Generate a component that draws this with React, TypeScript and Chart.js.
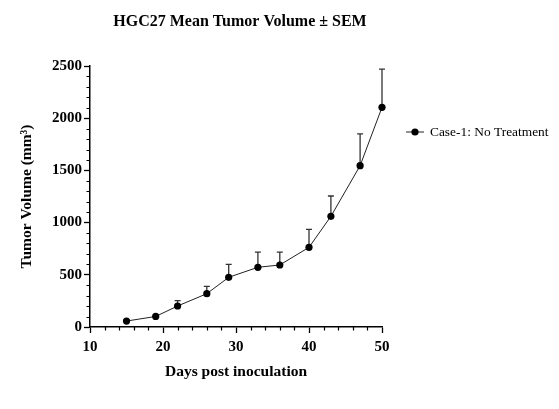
import React, { useEffect, useRef } from "react";
import { Chart, registerables } from "chart.js";

Chart.register(...registerables);

const TITLE = "HGC27 Mean Tumor Volume ± SEM";
const SERIES_LABEL = "Case-1: No Treatment";
const X_TITLE = "Days post inoculation";
const Y_TITLE = "Tumor Volume (mm³)";

const days = [15, 19, 22, 26, 29, 33, 36, 40, 43, 47, 50];
const meanVolume = [57, 101, 201, 319, 476, 572, 594, 763, 1060, 1545, 2104];
const sem = [0, 0, 51, 71, 124, 146, 124, 173, 195, 304, 367];

const FONT = "'Liberation Serif', 'Times New Roman', serif";

const extrasPlugin = {
  id: "extras",
  beforeDatasetsDraw(chart: any) {
    const ctx = chart.ctx;
    const xs = chart.scales.x;
    const ys = chart.scales.y;
    ctx.save();
    ctx.strokeStyle = "#333";
    ctx.lineWidth = 1.3;
    for (let i = 0; i < days.length; i++) {
      if (!sem[i]) continue;
      const px = xs.getPixelForValue(days[i]);
      const py = ys.getPixelForValue(meanVolume[i]);
      const pt = ys.getPixelForValue(meanVolume[i] + sem[i]);
      ctx.beginPath();
      ctx.moveTo(px, py);
      ctx.lineTo(px, pt);
      ctx.moveTo(px - 3, pt);
      ctx.lineTo(px + 3, pt);
      ctx.stroke();
    }
    ctx.restore();
  },
  afterDraw(chart: any) {
    const ctx = chart.ctx;
    const xs = chart.scales.x;
    const ys = chart.scales.y;
    const area = chart.chartArea;
    ctx.save();
    // minor ticks
    ctx.strokeStyle = "#000";
    ctx.lineWidth = 1.2;
    ctx.beginPath();
    for (let v = 100; v < 2500; v += 100) {
      if (v % 500 === 0) continue;
      const py = Math.round(ys.getPixelForValue(v)) + 0.5;
      ctx.moveTo(area.left - 3.5, py);
      ctx.lineTo(area.left, py);
    }
    for (let d = 12; d < 50; d += 2) {
      if (d % 10 === 0) continue;
      const px = Math.round(xs.getPixelForValue(d)) + 0.5;
      ctx.moveTo(px, area.bottom);
      ctx.lineTo(px, area.bottom + 3.5);
    }
    ctx.stroke();

    // title
    ctx.fillStyle = "#000";
    ctx.font = `bold 16px ${FONT}`;
    ctx.textAlign = "center";
    ctx.textBaseline = "alphabetic";
    ctx.fillText(TITLE, (area.left + area.right) / 2 + 4, 26);

    // legend
    const ly = 132;
    ctx.strokeStyle = "#222";
    ctx.lineWidth = 1;
    ctx.beginPath();
    ctx.moveTo(406, ly);
    ctx.lineTo(424, ly);
    ctx.stroke();
    ctx.beginPath();
    ctx.arc(415, ly, 3.6, 0, Math.PI * 2);
    ctx.fill();
    ctx.font = `13.4px ${FONT}`;
    ctx.textAlign = "left";
    ctx.textBaseline = "middle";
    ctx.fillText(SERIES_LABEL, 430, ly);
    ctx.restore();
  },
};

export default function App() {
  const ref = useRef<HTMLCanvasElement>(null);

  useEffect(() => {
    if (!ref.current) return;
    const tickFont = { family: FONT, size: 15, weight: "bold" as const };
    const titleFont = { family: FONT, size: 15.5, weight: "bold" as const };
    const chart = new Chart(ref.current, {
      type: "line",
      data: {
        datasets: [
          {
            label: SERIES_LABEL,
            data: days.map((d, i) => ({ x: d, y: meanVolume[i] })),
            borderColor: "#222",
            borderWidth: 1,
            backgroundColor: "#000",
            pointBackgroundColor: "#000",
            pointBorderColor: "#000",
            pointRadius: 3.6,
            pointBorderWidth: 0,
            tension: 0,
            clip: false as any,
          },
        ],
      },
      options: {
        animation: false,
        responsive: false,
        layout: { padding: { top: 66, right: 177, left: 0, bottom: 0 } },
        plugins: {
          legend: { display: false },
          title: { display: false },
          tooltip: { enabled: false },
        },
        scales: {
          x: {
            type: "linear",
            min: 10,
            max: 50,
            afterFit: (s: any) => {
              s.height = 82;
            },
            ticks: {
              stepSize: 10,
              color: "#000",
              font: tickFont,
              padding: 5,
              maxRotation: 0,
              callback: (v: any) => String(v),
            },
            grid: {
              drawOnChartArea: false,
              drawTicks: true,
              tickLength: 6,
              tickColor: "#000",
              tickWidth: 1.3,
            },
            border: { color: "#000", width: 1.5 },
            title: {
              display: true,
              text: X_TITLE,
              color: "#000",
              font: titleFont,
              padding: { top: 0, bottom: 28 },
            },
          },
          y: {
            type: "linear",
            min: 0,
            max: 2500,
            afterFit: (s: any) => {
              s.width = 90;
            },
            ticks: {
              stepSize: 500,
              color: "#000",
              font: tickFont,
              padding: 2,
              callback: (v: any) => String(v),
            },
            grid: {
              drawOnChartArea: false,
              drawTicks: true,
              tickLength: 6,
              tickColor: "#000",
              tickWidth: 1.3,
            },
            border: { color: "#000", width: 1.5 },
            title: {
              display: true,
              text: Y_TITLE,
              color: "#000",
              font: titleFont,
              padding: { top: 18, bottom: 0 },
            },
          },
        },
      },
      plugins: [extrasPlugin],
    });
    return () => chart.destroy();
  }, []);

  return (
    <div style={{ position: "fixed", left: 0, top: 0, width: 559, height: 409, background: "#fff" }}>
      <canvas ref={ref} width={559} height={409} />
    </div>
  );
}
